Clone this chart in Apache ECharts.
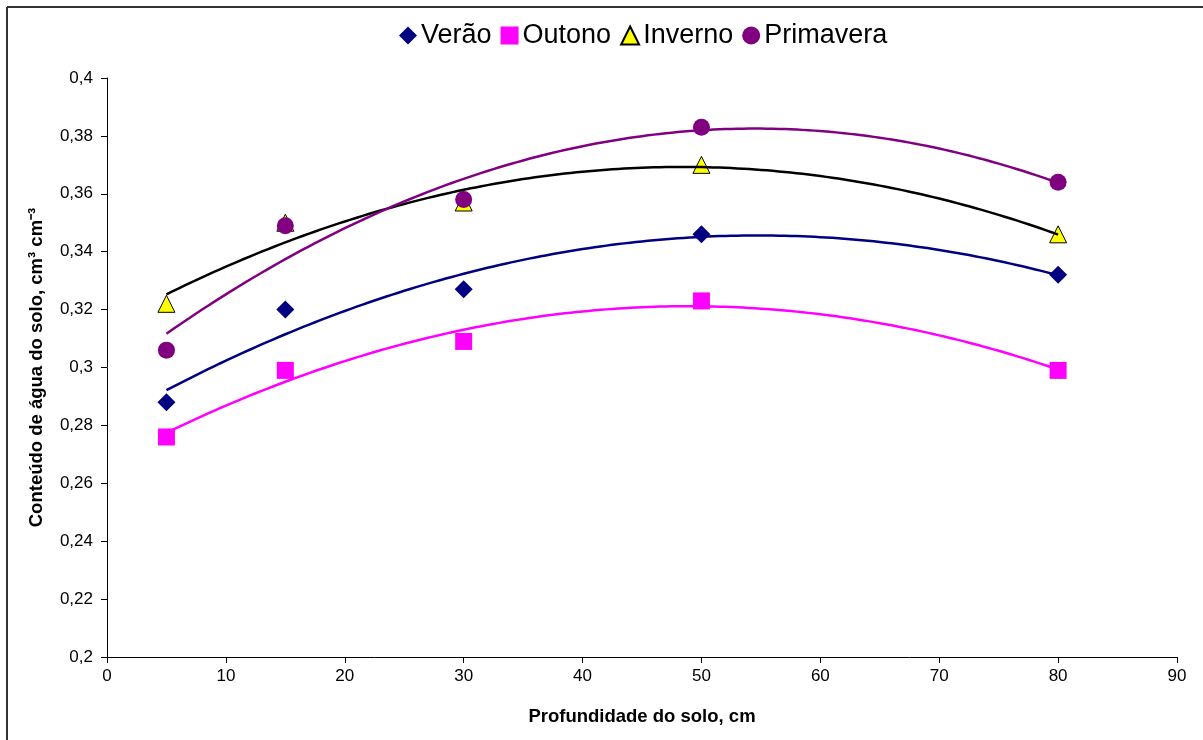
<!DOCTYPE html>
<html>
<head>
<meta charset="utf-8">
<script src="https://cdn.jsdelivr.net/npm/echarts@6/dist/echarts.min.js"></script>
<style>
  html, body { margin: 0; padding: 0; background: #fff; }
  #chart { width: 1203px; height: 740px; }
</style>
</head>
<body>
<div id="chart"></div>
<script>
// Soil depth (cm) where water content was measured
const depths = [5, 15, 30, 50, 80];

// Volumetric soil water content (cm³ cm⁻³) per season
const verao     = [0.288, 0.320, 0.327, 0.346, 0.332];
const outono    = [0.276, 0.299, 0.309, 0.323, 0.299];
const inverno   = [0.322, 0.350, 0.357, 0.370, 0.346];
const primavera = [0.306, 0.349, 0.358, 0.383, 0.364];

const seasonNames = ['Verão', 'Outono', 'Inverno', 'Primavera'];

// Axis ranges and tick spacing
const xMin = 0, xMax = 90, xStep = 10;
const yMin = 0.2, yMax = 0.4, yStep = 0.02;

// Least-squares 2nd-order polynomial trend through the measured points
function quadFit(xs, ys) {
  let n = xs.length, s = [0, 0, 0, 0, 0], t = [0, 0, 0];
  for (let i = 0; i < n; i++) {
    let p = 1;
    for (let k = 0; k < 5; k++) { s[k] += p; if (k < 3) t[k] += p * ys[i]; p *= xs[i]; }
  }
  // Normal equations: [[s0,s1,s2],[s1,s2,s3],[s2,s3,s4]] * [a,b,c] = t
  const A = [[s[0], s[1], s[2], t[0]], [s[1], s[2], s[3], t[1]], [s[2], s[3], s[4], t[2]]];
  for (let i = 0; i < 3; i++) {
    for (let j = i + 1; j < 3; j++) {
      const f = A[j][i] / A[i][i];
      for (let k = i; k < 4; k++) A[j][k] -= f * A[i][k];
    }
  }
  const c = [0, 0, 0];
  for (let i = 2; i >= 0; i--) {
    let v = A[i][3];
    for (let k = i + 1; k < 3; k++) v -= A[i][k] * c[k];
    c[i] = v / A[i][i];
  }
  return c;
}

function trendPoints(xs, ys) {
  const c = quadFit(xs, ys);
  const lo = Math.min.apply(null, xs), hi = Math.max.apply(null, xs);
  const pts = [];
  for (let x = lo; x <= hi + 1e-9; x += 0.5) pts.push([x, c[0] + c[1] * x + c[2] * x * x]);
  return pts;
}

function pairs(ys) { return depths.map((d, i) => [d, ys[i]]); }

const seasons = [
  { name: seasonNames[0], values: verao,     symbol: 'diamond',  size: [18, 18], color: '#000080', border: null,   line: '#000080' },
  { name: seasonNames[1], values: outono,    symbol: 'rect',     size: [17, 17], color: '#FF00FF', border: null,   line: '#FF00FF' },
  { name: seasonNames[2], values: inverno,   symbol: 'triangle', size: [17, 17], color: '#FFFF00', border: '#000', line: '#000000' },
  { name: seasonNames[3], values: primavera, symbol: 'circle',   size: [17, 17], color: '#800080', border: null,   line: '#800080' }
];

const series = [];
seasons.forEach(s => {
  series.push({
    name: s.name,
    type: 'scatter',
    data: pairs(s.values),
    symbol: s.symbol,
    symbolSize: s.size,
    itemStyle: s.border
      ? { color: s.color, borderColor: s.border, borderWidth: 1, opacity: 1 }
      : { color: s.color, opacity: 1 },
    z: 2
  });
});
seasons.forEach(s => {
  series.push({
    name: s.name + ' (tendência)',
    type: 'line',
    data: trendPoints(depths, s.values),
    showSymbol: false,
    symbol: 'none',
    lineStyle: { color: s.line, width: 2.5 },
    silent: true,
    z: 3
  });
});

const fmtDec = v => String(Math.round(v * 100) / 100).replace('.', ',');

const chart = echarts.init(document.getElementById('chart'), null, { renderer: 'canvas' });
chart.setOption({
  animation: false,
  backgroundColor: '#ffffff',
  textStyle: { fontFamily: 'Liberation Sans, Arial, sans-serif', color: '#000' },
  graphic: [
    { type: 'line', shape: { x1: 7, y1: 7, x2: 7, y2: 740 }, style: { stroke: '#333', lineWidth: 2 } },
    { type: 'line', shape: { x1: 7, y1: 7, x2: 1203, y2: 7 }, style: { stroke: '#333', lineWidth: 2 } }
  ],
  legend: {
    data: seasons.map(s => ({ name: s.name, icon: s.symbol })),
    left: 394,
    top: 17,
    itemWidth: 18,
    itemHeight: 18,
    itemGap: 9,
    textStyle: { fontSize: 27, color: '#000', fontFamily: 'Liberation Sans, Arial, sans-serif', padding: [0, 0, 0, -1] }
  },
  grid: { left: 107, right: 26, top: 78, bottom: 83, containLabel: false },
  xAxis: {
    type: 'value',
    min: xMin, max: xMax, interval: xStep,
    name: 'Profundidade do solo, cm',
    nameLocation: 'middle',
    nameGap: 50,
    nameTextStyle: { fontSize: 18.5, fontWeight: 'bold', color: '#000' },
    axisLine: { show: true, lineStyle: { color: '#000', width: 1 } },
    axisTick: { show: true, length: 6, lineStyle: { color: '#000' } },
    axisLabel: { fontSize: 17, color: '#000', margin: 11 },
    splitLine: { show: false }
  },
  yAxis: {
    type: 'value',
    min: yMin, max: yMax, interval: yStep,
    name: 'Conteúdo de água do solo, cm³ cm⁻³',
    nameLocation: 'middle',
    nameGap: 61,
    nameRotate: 90,
    nameTextStyle: { fontSize: 18.5, fontWeight: 'bold', color: '#000' },
    axisLine: { show: true, lineStyle: { color: '#000', width: 1 } },
    axisTick: { show: true, length: 6, lineStyle: { color: '#000' } },
    axisLabel: { fontSize: 17, color: '#000', margin: 14, formatter: fmtDec },
    splitLine: { show: false }
  },
  series: series
});
</script>
</body>
</html>
